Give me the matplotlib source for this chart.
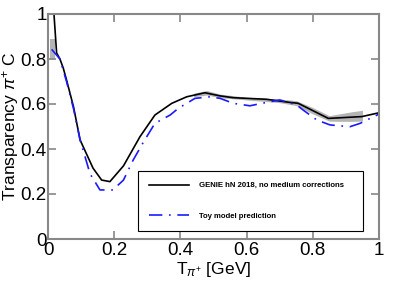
import matplotlib
matplotlib.use("Agg")
import matplotlib.pyplot as plt

# GENIE hN 2018 (black solid)
genie_x = [0.018, 0.026, 0.036, 0.046, 0.056, 0.077, 0.097, 0.136, 0.162, 0.187, 0.228,
           0.278, 0.323, 0.374, 0.419, 0.474, 0.52, 0.56, 0.66, 0.731, 0.756, 0.847,
           0.948, 1.0]
genie_y = [1.0, 0.827, 0.80, 0.76, 0.707, 0.588, 0.44, 0.315, 0.262, 0.255, 0.325,
           0.455, 0.551, 0.603, 0.632, 0.65, 0.636, 0.628, 0.621, 0.607, 0.603, 0.536,
           0.544, 0.561]

# Toy model prediction (blue dash-dot)
toy_x = [0.011, 0.036, 0.056, 0.077, 0.097, 0.127, 0.157, 0.196, 0.228, 0.257, 0.288,
         0.323, 0.369, 0.394, 0.444, 0.489, 0.52, 0.56, 0.61, 0.646, 0.70, 0.751,
         0.771, 0.812, 0.852, 0.912, 0.943, 0.973, 1.0]
toy_y = [0.843, 0.80, 0.70, 0.58, 0.44, 0.29, 0.218, 0.218, 0.262, 0.35, 0.43,
         0.514, 0.551, 0.581, 0.625, 0.632, 0.625, 0.603, 0.592, 0.603, 0.618, 0.596,
         0.573, 0.529, 0.507, 0.499, 0.514, 0.536, 0.555]

# GENIE uncertainty bands (grey)
band1_x = [0.006, 0.022]
band1_lo = [0.795, 0.795]
band1_hi = [0.89, 0.89]
band_x = [0.44, 0.48, 0.52, 0.60, 0.70, 0.75, 0.80, 0.85, 0.88, 0.92, 0.95]
band_lo = [0.632, 0.64, 0.628, 0.618, 0.606, 0.593, 0.556, 0.524, 0.523, 0.523, 0.524]
band_hi = [0.648, 0.66, 0.644, 0.63, 0.622, 0.615, 0.584, 0.548, 0.556, 0.566, 0.572]

x_ticks = [0, 0.2, 0.4, 0.6, 0.8, 1]
x_ticklabels = ["0", "0.2", "0.4", "0.6", "0.8", "1"]
y_ticks = [0, 0.2, 0.4, 0.6, 0.8, 1]
y_ticklabels = ["0", "0.2", "0.4", "0.6", "0.8", "1"]

plt.rcParams['font.family'] = ['Liberation Sans', 'DejaVu Sans']
plt.rcParams['mathtext.fontset'] = 'custom'
plt.rcParams['mathtext.rm'] = 'Liberation Sans'
plt.rcParams['mathtext.it'] = 'Liberation Sans:italic'

fig = plt.figure(figsize=(3.99, 2.86), dpi=100)
ax = fig.add_axes([48/399, 1-239/286, 331/399, 225/286])

ax.fill_between(band1_x, band1_lo, band1_hi, color='#b4b4b4', linewidth=0)
ax.fill_between(band_x, band_lo, band_hi, color='#b4b4b4', linewidth=0)
ax.plot(genie_x, genie_y, color='black', lw=1.2,
        label='GENIE hN 2018, no medium corrections')
ax.plot(toy_x, toy_y, color='#1a1aff', lw=1.2, dashes=(8, 4, 1, 4),
        label='Toy model prediction')

ax.set_xlim(0, 1)
ax.set_ylim(0, 1)
ax.set_xticks(x_ticks)
ax.set_xticklabels(x_ticklabels)
ax.set_yticks(y_ticks)
ax.set_yticklabels(y_ticklabels)
ax.tick_params(direction='in', length=6, width=1.2, color='#888888',
               top=True, right=True, labelsize=13.5)
ax.tick_params(axis='y', pad=1)
ax.tick_params(axis='x', pad=2)
for s in ax.spines.values():
    s.set_color('#888888')
    s.set_linewidth(1.5)

ax.set_xlabel(r'T$_{\pi^{+}}$ [GeV]', fontsize=12.5)
ax.set_ylabel(r'Transparency $\pi^{+}$ C', fontsize=12.5)
ax.xaxis.set_label_coords(0.5, -0.095)
ax.yaxis.set_label_coords(-0.083, 0.5)

leg = ax.legend(loc='lower left', bbox_to_anchor=(0.272, 0.036, 0.68, 0.262),
                mode='expand', borderaxespad=0,
                prop={'weight': 'bold', 'size': 5.6},
                handlelength=5.2, handletextpad=1.2, labelspacing=3.0,
                borderpad=1.4, fancybox=False, framealpha=1, edgecolor='black')
leg.get_frame().set_linewidth(0.8)

fig.savefig('out.png', dpi=100)
